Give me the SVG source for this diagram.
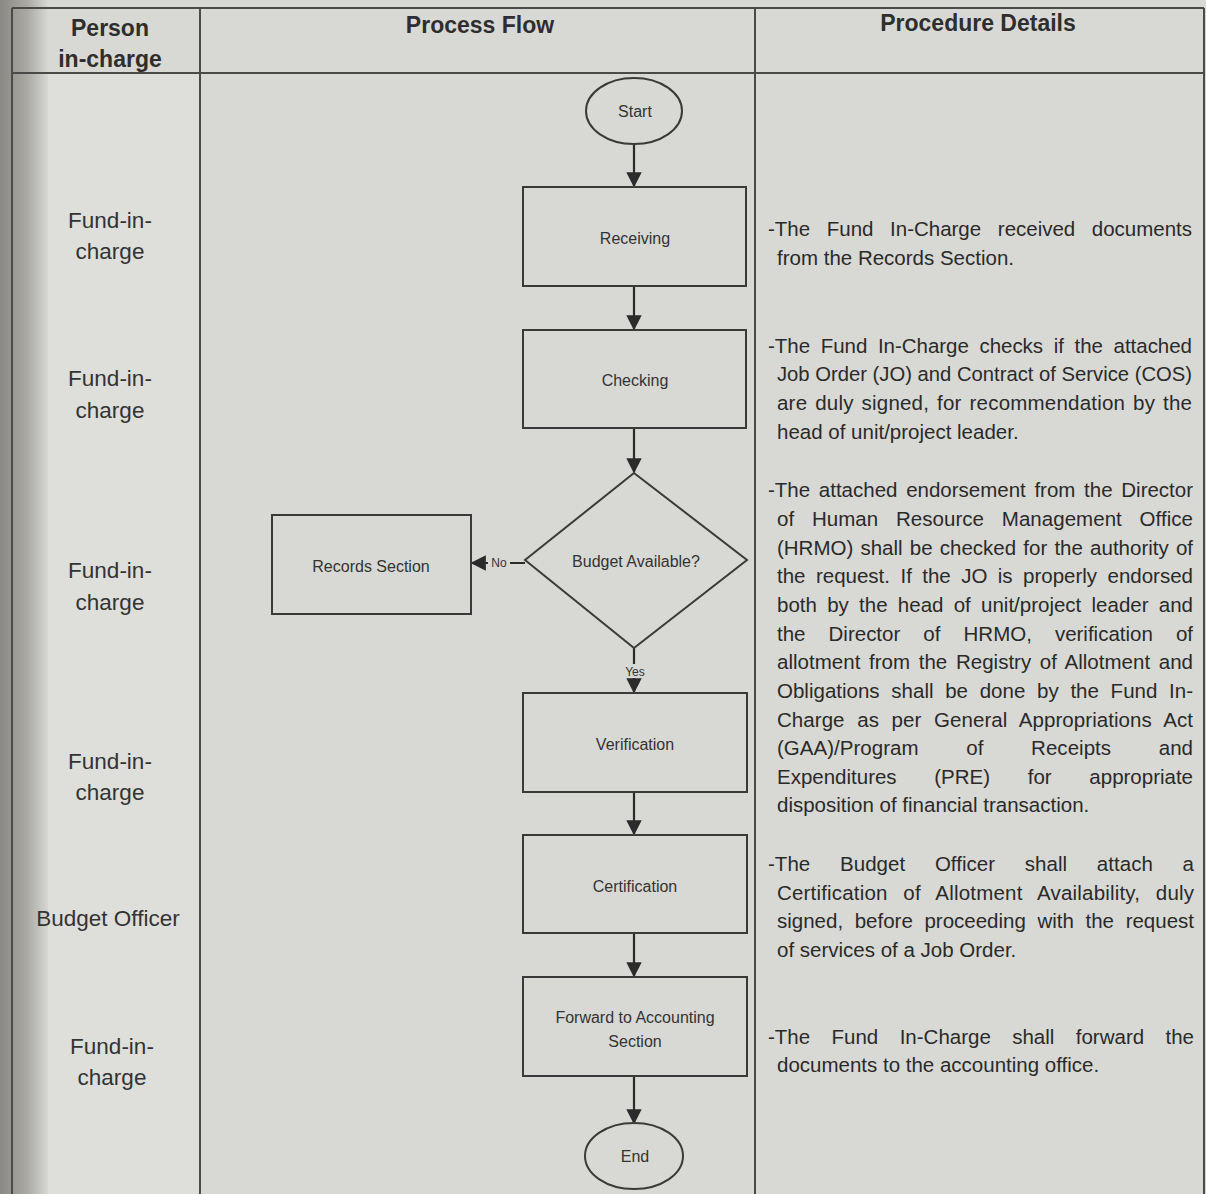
<svg xmlns="http://www.w3.org/2000/svg" width="1206" height="1194" viewBox="0 0 1206 1194">
<defs>
<linearGradient id="bind" x1="0" y1="0" x2="1" y2="0">
<stop offset="0" stop-color="#8a8882"/>
<stop offset="0.55" stop-color="#a9a8a2"/>
<stop offset="1" stop-color="#d6d7d3"/>
</linearGradient>
<marker id="arr" viewBox="0 0 10 10" refX="9" refY="5" markerWidth="7" markerHeight="7" orient="auto">
<path d="M0,0 L10,5 L0,10 z" fill="#2b2b2b"/>
</marker>
</defs>
<style>
.shape{fill:none;stroke:#3a3a3a;stroke-width:2}
.grid{stroke:#4a4a48;stroke-width:2;fill:none}
.conn{stroke:#2b2b2b;stroke-width:2.2;fill:none}
.lbl{font-family:"Liberation Sans",Arial,sans-serif;font-size:16px;fill:#333;text-anchor:middle}
.small{font-family:"Liberation Sans",Arial,sans-serif;font-size:12px;fill:#333;text-anchor:middle}
.hdr{font-family:"Liberation Sans",Arial,sans-serif;font-size:23px;font-weight:bold;fill:#2e2e2e;text-anchor:middle}
.who{font-family:"Liberation Sans",Arial,sans-serif;font-size:22.5px;fill:#333;text-anchor:middle}
.body{font-family:"Liberation Sans",Arial,sans-serif;font-size:20.5px;fill:#2a2a2a}
</style>
<rect x="0" y="0" width="1206" height="1194" fill="#d8d9d4"/>
<rect x="0" y="0" width="48" height="1194" fill="url(#bind)"/>
<rect x="48" y="74" width="152" height="1120" fill="#dedfdb"/>

<g id="table">
<line class="grid" x1="12" y1="8" x2="1204" y2="8"/>
<line class="grid" x1="12" y1="73" x2="1204" y2="73"/>
<line class="grid" x1="12" y1="8" x2="12" y2="1194"/>
<line class="grid" x1="200" y1="8" x2="200" y2="1194"/>
<line class="grid" x1="755" y1="8" x2="755" y2="1194"/>
<line class="grid" x1="1204" y1="8" x2="1204" y2="1194"/>
<text class="hdr" x="110" y="36">Person</text>
<text class="hdr" x="110" y="67">in-charge</text>
<text class="hdr" x="480" y="33">Process Flow</text>
<text class="hdr" x="978" y="31">Procedure Details</text>
</g>

<g id="persons">
<text class="who" x="110" y="228">Fund-in-</text><text class="who" x="110" y="259">charge</text>
<text class="who" x="110" y="386">Fund-in-</text><text class="who" x="110" y="418">charge</text>
<text class="who" x="110" y="578">Fund-in-</text><text class="who" x="110" y="610">charge</text>
<text class="who" x="110" y="769">Fund-in-</text><text class="who" x="110" y="800">charge</text>
<text class="who" x="108" y="926">Budget Officer</text>
<text class="who" x="112" y="1054">Fund-in-</text><text class="who" x="112" y="1085">charge</text>
</g>

<g id="connectors">
<line class="conn" x1="634" y1="144" x2="634" y2="186" marker-end="url(#arr)"/>
<line class="conn" x1="634" y1="287" x2="634" y2="329" marker-end="url(#arr)"/>
<line class="conn" x1="634" y1="429" x2="634" y2="472" marker-end="url(#arr)"/>
<line class="conn" x1="525" y1="563" x2="472" y2="563" marker-end="url(#arr)"/>
<line class="conn" x1="634" y1="648" x2="634" y2="692" marker-end="url(#arr)"/>
<line class="conn" x1="634" y1="793" x2="634" y2="834" marker-end="url(#arr)"/>
<line class="conn" x1="634" y1="934" x2="634" y2="976" marker-end="url(#arr)"/>
<line class="conn" x1="634" y1="1077" x2="634" y2="1123" marker-end="url(#arr)"/>
<rect x="488" y="556" width="22" height="14" fill="#d8d9d4"/>
<text class="small" x="499" y="567">No</text>
<rect x="623" y="664" width="24" height="14" fill="#d8d9d4"/>
<text class="small" x="635" y="676">Yes</text>
</g>

<g id="start"><ellipse class="shape" cx="634" cy="111" rx="48" ry="33"/><text class="lbl" x="635" y="117">Start</text></g>
<g id="receiving"><rect class="shape" x="523" y="187" width="223" height="99"/><text class="lbl" x="635" y="244">Receiving</text></g>
<g id="checking"><rect class="shape" x="523" y="330" width="223" height="98"/><text class="lbl" x="635" y="386">Checking</text></g>
<g id="budget"><polygon class="shape" points="634,473 747,560 634,648 525,560"/><text class="lbl" x="636" y="567">Budget Available?</text></g>
<g id="records"><rect class="shape" x="272" y="515" width="199" height="99"/><text class="lbl" x="371" y="572">Records Section</text></g>
<g id="verification"><rect class="shape" x="523" y="693" width="224" height="99"/><text class="lbl" x="635" y="750">Verification</text></g>
<g id="certification"><rect class="shape" x="523" y="835" width="224" height="98"/><text class="lbl" x="635" y="892">Certification</text></g>
<g id="forward"><rect class="shape" x="523" y="977" width="224" height="99"/><text class="lbl" x="635" y="1023">Forward to Accounting</text><text class="lbl" x="635" y="1047">Section</text></g>
<g id="end"><ellipse class="shape" cx="634" cy="1156" rx="49" ry="33"/><text class="lbl" x="635" y="1162">End</text></g>

<g id="details">
<text class="body" x="768" y="236" word-spacing="11" textLength="424" lengthAdjust="spacing">-The Fund In-Charge received documents</text>
<text class="body" x="777" y="265">from the Records Section.</text>

<text class="body" x="768" y="353" word-spacing="5" textLength="424" lengthAdjust="spacing">-The Fund In-Charge checks if the attached</text>
<text class="body" x="777" y="381" textLength="415" lengthAdjust="spacingAndGlyphs">Job Order (JO) and Contract of Service (COS)</text>
<text class="body" x="777" y="410" word-spacing="2" textLength="415" lengthAdjust="spacing">are duly signed, for recommendation by the</text>
<text class="body" x="777" y="439">head of unit/project leader.</text>

<text class="body" x="768" y="497" word-spacing="3" textLength="425" lengthAdjust="spacing">-The attached endorsement from the Director</text>
<text class="body" x="777" y="526" word-spacing="12" textLength="416" lengthAdjust="spacing">of Human Resource Management Office</text>
<text class="body" x="777" y="555" word-spacing="1.5" textLength="416" lengthAdjust="spacing">(HRMO) shall be checked for the authority of</text>
<text class="body" x="777" y="583" word-spacing="4.7" textLength="416" lengthAdjust="spacing">the request. If the JO is properly endorsed</text>
<text class="body" x="777" y="612" word-spacing="4.6" textLength="416" lengthAdjust="spacing">both by the head of unit/project leader and</text>
<text class="body" x="777" y="641" word-spacing="17.4" textLength="416" lengthAdjust="spacing">the Director of HRMO, verification of</text>
<text class="body" x="777" y="669" word-spacing="2.9" textLength="416" lengthAdjust="spacing">allotment from the Registry of Allotment and</text>
<text class="body" x="777" y="698" word-spacing="6" textLength="416" lengthAdjust="spacing">Obligations shall be done by the Fund In-</text>
<text class="body" x="777" y="727" word-spacing="6.9" textLength="416" lengthAdjust="spacing">Charge as per General Appropriations Act</text>
<text class="body" x="777" y="755" word-spacing="42" textLength="416" lengthAdjust="spacing">(GAA)/Program of Receipts and</text>
<text class="body" x="777" y="784" word-spacing="32" textLength="416" lengthAdjust="spacing">Expenditures (PRE) for appropriate</text>
<text class="body" x="777" y="812">disposition of financial transaction.</text>

<text class="body" x="768" y="871" word-spacing="24" textLength="426" lengthAdjust="spacing">-The Budget Officer shall attach a</text>
<text class="body" x="777" y="900" word-spacing="9.8" textLength="417" lengthAdjust="spacing">Certification of Allotment Availability, duly</text>
<text class="body" x="777" y="928" word-spacing="5.9" textLength="417" lengthAdjust="spacing">signed, before proceeding with the request</text>
<text class="body" x="777" y="957">of services of a Job Order.</text>

<text class="body" x="768" y="1044" word-spacing="15.7" textLength="426" lengthAdjust="spacing">-The Fund In-Charge shall forward the</text>
<text class="body" x="777" y="1072">documents to the accounting office.</text>
</g>
</svg>
